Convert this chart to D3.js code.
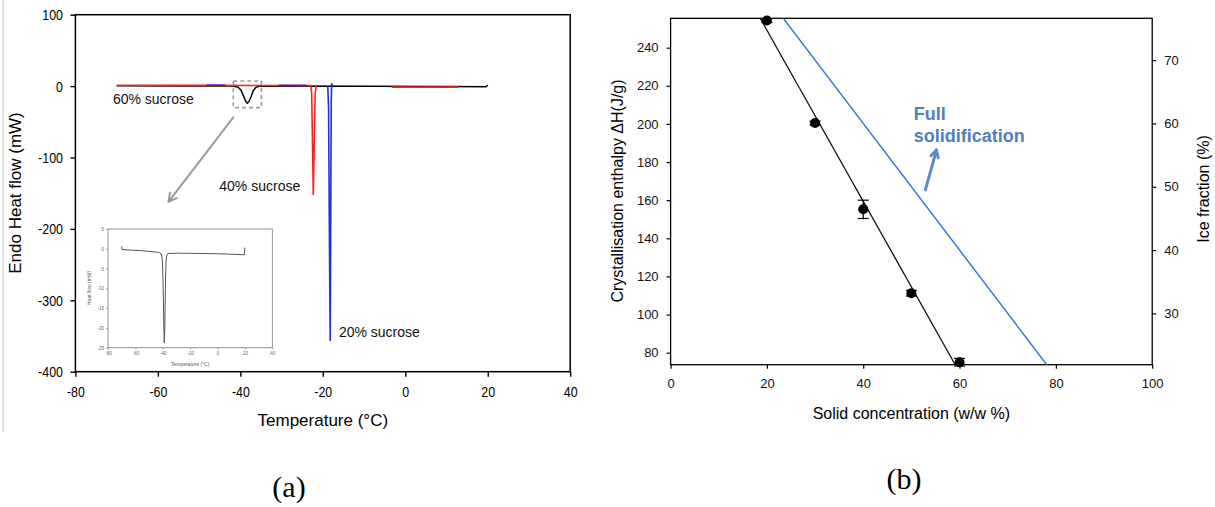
<!DOCTYPE html>
<html>
<head>
<meta charset="utf-8">
<script src="https://cdn.jsdelivr.net/npm/d3@7"></script>
<style>
  body { margin: 0; background: #fff; }
  svg { display: block; font-family: "Liberation Sans", Arial, sans-serif; }
</style>
</head>
<body>
<svg id="figure" width="1215" height="507"></svg>
<script>
// ---------------- panel (a) data : DSC traces ----------------
var tempTicksA = [-80, -60, -40, -20, 0, 20, 40];
var flowTicksA = [-400, -300, -200, -100, 0, 100];

// 60% sucrose (black), full trace
var sucrose60 = [[-70, 0.5], [-55, 0.3], [-42, 0], [-41.2, -0.6], [-40.5, -1.8], [-39.8, -6], [-39.2, -14],
                 [-38.7, -21.5], [-38.3, -24], [-37.9, -21.5], [-37.4, -15], [-36.9, -7], [-36.3, -2.2],
                 [-35.5, -0.3], [-34, 0], [-10, -0.3], [10, -0.6], [19.6, -0.8], [19.8, 0.2], [20, 1.8]];
// 40% sucrose (red), visible pieces
var sucrose40 = [
  [[-70, 1.2], [-48, 1.0], [-35, 0.8], [-22.9, 0.6], [-22.7, -10], [-22.5, -80], [-22.3, -152.5],
   [-22.05, -70], [-21.85, -10], [-21.6, 0.3]],
  [[-3.3, -1.4], [12.8, -1.4]]
];
// 20% sucrose (blue), visible pieces
var sucrose20 = [
  [[-48.2, 1.3], [-43.7, 1.3]],
  [[-30.7, 1.0], [-23.9, 1.0]],
  [[-18.8, 0.2], [-18.6, -30], [-18.5, -120], [-18.35, -250], [-18.2, -357], [-18.05, -150],
   [-17.95, -20], [-17.85, 4], [-17.7, 0]]
];
var curveLabels = ["60% sucrose", "40% sucrose", "20% sucrose"];
var labelPos = [[-70.9, -18.5], [-45.1, -140], [-16.1, -345]];
var zoomBox = [[-41.7, 7.1], [-34.9, -30.1]];
var zoomArrow = [[-41.7, -43.7], [-57.4, -161.9]];

// inset (60% sucrose, enlarged)
var insetXTicks = [-80, -60, -40, -20, 0, 20, 40];
var insetYTicks = [-25, -20, -15, -10, -5, 0, 5];
var insetCurve = [[-70, 0.6], [-69.9, -0.2], [-55, -0.5], [-43, -0.9], [-41, -1.3], [-40.2, -3],
                  [-39.7, -10], [-39.2, -20], [-38.9, -23.8], [-38.5, -20], [-38.1, -10], [-37.7, -4],
                  [-37.2, -1.8], [-36.3, -1.2], [-30, -1.1], [0, -1.25], [19.6, -1.5], [20, 0.3]];

// ---------------- panel (b) data ----------------
var concTicks = [0, 20, 40, 60, 80, 100];
var enthalpyTicks = [80, 100, 120, 140, 160, 180, 200, 220, 240];
var iceTicks = [30, 40, 50, 60, 70];
var concentration = [20, 30, 40, 50, 60];
var enthalpy = [254.2, 200.5, 155.2, 111.2, 75.0];
var enthalpyErr = [1.0, 1.0, 4.8, 1.5, 2.0];
var fitLine = [[18.6, 255.4], [59.1, 73.7]];
var fullSolid = [[20, 80], [80, 20]];   // ice fraction (%) vs solid concentration

var svg = d3.select("#figure");
var plain = function(d) { return String(d); };   // keep ascii hyphen for negatives

// thin grey border at left of panel (a)
svg.append("line").attr("x1", 3).attr("x2", 3).attr("y1", 0).attr("y2", 432)
   .attr("stroke", "#c4c4c4").attr("stroke-width", 1);

function arrow(g, x1, y1, x2, y2, color, width, head) {
  g.append("line").attr("x1", x1).attr("y1", y1).attr("x2", x2).attr("y2", y2)
   .attr("stroke", color).attr("stroke-width", width).attr("stroke-linecap", "round");
  var ang = Math.atan2(y2 - y1, x2 - x1);
  [ang + Math.PI - 0.5, ang + Math.PI + 0.5].forEach(function(a) {
    g.append("line").attr("x1", x2).attr("y1", y2)
     .attr("x2", x2 + head * Math.cos(a)).attr("y2", y2 + head * Math.sin(a))
     .attr("stroke", color).attr("stroke-width", width).attr("stroke-linecap", "round");
  });
}

// ================= panel (a) =================
var xA = d3.scaleLinear().domain([-80, 40]).range([75.4, 570.2]);
var yA = d3.scaleLinear().domain([-400, 100]).range([371.7, 14.7]);
var gA = svg.append("g");

var axA_x = gA.append("g").attr("transform", "translate(0," + yA(-400) + ")")
  .call(d3.axisBottom(xA).tickValues(tempTicksA).tickFormat(plain).tickSize(5).tickSizeOuter(0).tickPadding(9));
var axA_y = gA.append("g").attr("transform", "translate(" + xA(-80) + ",0)")
  .call(d3.axisLeft(yA).tickValues(flowTicksA).tickFormat(plain).tickSize(5).tickSizeOuter(0));
[axA_x, axA_y].forEach(function(ax) {
  ax.select(".domain").remove();
  ax.selectAll(".tick line").attr("stroke", "#000").attr("stroke-width", 1.4);
  ax.selectAll("text").attr("fill", "#000").style("font-size", "15.5px")
    .attr("font-family", "Liberation Sans, Arial, sans-serif");
});
axA_x.selectAll("text").attr("transform", "scale(0.8,1)");
axA_y.selectAll("text").attr("x", -12.5 / 0.8).attr("transform", "scale(0.8,1)");

gA.append("rect").attr("x", xA(-80)).attr("y", yA(100))
  .attr("width", xA(40) - xA(-80)).attr("height", yA(-400) - yA(100))
  .attr("fill", "none").attr("stroke", "#000").attr("stroke-width", 1.5);

var lineA = d3.line().x(d => xA(d[0])).y(d => yA(d[1]));
gA.append("path").datum(sucrose60).attr("d", lineA)
  .attr("fill", "none").attr("stroke", "#000").attr("stroke-width", 1.5);
sucrose40.forEach(function(seg) {
  gA.append("path").datum(seg).attr("d", lineA)
    .attr("fill", "none").attr("stroke", "#ff1f1f").attr("stroke-width", 1.6);
});
sucrose20.forEach(function(seg) {
  gA.append("path").datum(seg).attr("d", lineA)
    .attr("fill", "none").attr("stroke", "#1d30dc").attr("stroke-width", 1.6);
});

curveLabels.forEach(function(t, i) {
  gA.append("text").attr("x", xA(labelPos[i][0])).attr("y", yA(labelPos[i][1]))
    .attr("dy", "0.35em").style("font-size", "14px").attr("fill", "#111").text(t);
});

gA.append("rect").attr("x", xA(zoomBox[0][0])).attr("y", yA(zoomBox[0][1]))
  .attr("width", xA(zoomBox[1][0]) - xA(zoomBox[0][0]))
  .attr("height", yA(zoomBox[1][1]) - yA(zoomBox[0][1]))
  .attr("fill", "none").attr("stroke", "#9a9a9a").attr("stroke-width", 1.6)
  .attr("stroke-dasharray", "4,3");
arrow(gA, xA(zoomArrow[0][0]), yA(zoomArrow[0][1]), xA(zoomArrow[1][0]), yA(zoomArrow[1][1]),
      "#9a9a9a", 2, 9);

gA.append("text").attr("x", (xA(-80) + xA(40)) / 2).attr("y", 420).attr("dy", "0.35em")
  .attr("text-anchor", "middle").style("font-size", "17px").text("Temperature (\u00B0C)");
gA.append("text").attr("transform", "translate(15," + 193 + ") rotate(-90)")
  .attr("dy", "0.35em").attr("text-anchor", "middle").style("font-size", "17px")
  .text("Endo Heat flow (mW)");

// ---- inset ----
var xI = d3.scaleLinear().domain([-80, 40]).range([108, 272.3]);
var yI = d3.scaleLinear().domain([-25, 5]).range([347.7, 229]);
var gI = svg.append("g");
gI.append("rect").attr("x", xI(-80)).attr("y", yI(5))
  .attr("width", xI(40) - xI(-80)).attr("height", yI(-25) - yI(5))
  .attr("fill", "#fff").attr("stroke", "#777").attr("stroke-width", 0.8);
var axI_x = gI.append("g").attr("transform", "translate(0," + yI(-25) + ")")
  .call(d3.axisBottom(xI).tickValues(insetXTicks).tickFormat(plain).tickSize(2).tickSizeOuter(0).tickPadding(2));
var axI_y = gI.append("g").attr("transform", "translate(" + xI(-80) + ",0)")
  .call(d3.axisLeft(yI).tickValues(insetYTicks).tickFormat(plain).tickSize(2).tickSizeOuter(0).tickPadding(2));
[axI_x, axI_y].forEach(function(ax) {
  ax.select(".domain").remove();
  ax.selectAll(".tick line").attr("stroke", "#777").attr("stroke-width", 0.6);
  ax.selectAll("text").attr("fill", "#666").style("font-size", "4.5px")
    .attr("font-family", "Liberation Sans, Arial, sans-serif");
});
gI.append("path").datum(insetCurve)
  .attr("d", d3.line().x(d => xI(d[0])).y(d => yI(d[1])))
  .attr("fill", "none").attr("stroke", "#555").attr("stroke-width", 1);
gI.append("text").attr("x", (xI(-80) + xI(40)) / 2).attr("y", 364.5).attr("dy", "0.35em")
  .attr("text-anchor", "middle").style("font-size", "5px").attr("fill", "#555")
  .text("Temperature (\u00B0C)");
gI.append("text").attr("transform", "translate(89.5,288) rotate(-90)").attr("dy", "0.35em")
  .attr("text-anchor", "middle").style("font-size", "5px").attr("fill", "#555")
  .text("Heat flow (mW)");

// ================= panel (b) =================
var xB = d3.scaleLinear().domain([0, 100]).range([670.6, 1152.2]);
var yBL = d3.scaleLinear().domain([73.7, 255.4]).range([364.7, 18.3]);
var yBR = d3.scaleLinear().domain([21.9, 76.6]).range([364.7, 18.3]);
var gB = svg.append("g");

var axB_x = gB.append("g").attr("transform", "translate(0," + yBL.range()[0] + ")")
  .call(d3.axisBottom(xB).tickValues(concTicks).tickSize(4).tickSizeOuter(0).tickPadding(10));
var axB_l = gB.append("g").attr("transform", "translate(" + xB(0) + ",0)")
  .call(d3.axisLeft(yBL).tickValues(enthalpyTicks).tickSize(4).tickSizeOuter(0).tickPadding(8));
var axB_r = gB.append("g").attr("transform", "translate(" + xB(100) + ",0)")
  .call(d3.axisRight(yBR).tickValues(iceTicks).tickSize(4).tickSizeOuter(0).tickPadding(8));
[axB_x, axB_l, axB_r].forEach(function(ax) {
  ax.select(".domain").remove();
  ax.selectAll(".tick line").attr("stroke", "#000").attr("stroke-width", 1.2);
  ax.selectAll("text").attr("fill", "#111").style("font-size", "13px")
    .attr("font-family", "Liberation Sans, Arial, sans-serif");
});

gB.append("rect").attr("x", xB(0)).attr("y", yBL.range()[1])
  .attr("width", xB(100) - xB(0)).attr("height", yBL.range()[0] - yBL.range()[1])
  .attr("fill", "none").attr("stroke", "#000").attr("stroke-width", 1.3);

gB.append("clipPath").attr("id", "clipB").append("rect")
  .attr("x", xB(0)).attr("y", yBL.range()[1])
  .attr("width", xB(100) - xB(0)).attr("height", yBL.range()[0] - yBL.range()[1]);

gB.append("path").datum(fullSolid).attr("clip-path", "url(#clipB)")
  .attr("d", d3.line().x(d => xB(d[0])).y(d => yBR(d[1])))
  .attr("fill", "none").attr("stroke", "#2a72d4").attr("stroke-width", 1.4);
gB.append("path").datum(fitLine)
  .attr("d", d3.line().x(d => xB(d[0])).y(d => yBL(d[1])))
  .attr("fill", "none").attr("stroke", "#111").attr("stroke-width", 1.3);

concentration.forEach(function(c, i) {
  var cx = xB(c), top = yBL(enthalpy[i] + enthalpyErr[i]), bot = yBL(enthalpy[i] - enthalpyErr[i]);
  gB.append("line").attr("x1", cx).attr("x2", cx).attr("y1", top).attr("y2", bot)
    .attr("stroke", "#000").attr("stroke-width", 1.2);
  [top, bot].forEach(function(yy) {
    gB.append("line").attr("x1", cx - 5.5).attr("x2", cx + 5.5).attr("y1", yy).attr("y2", yy)
      .attr("stroke", "#000").attr("stroke-width", 1.2);
  });
  gB.append("circle").attr("cx", cx).attr("cy", yBL(enthalpy[i])).attr("r", 5).attr("fill", "#000");
});

gB.append("text").attr("x", xB(50.5)).attr("y", 113.5).attr("dy", "0.35em")
  .style("font-size", "18px").style("font-weight", "bold").attr("fill", "#4f81bd").text("Full");
gB.append("text").attr("x", xB(50.5)).attr("y", 136).attr("dy", "0.35em")
  .style("font-size", "18px").style("font-weight", "bold").attr("fill", "#4f81bd").text("solidification");
arrow(gB, xB(52.9), yBL(165.4), xB(55.2), yBL(186.3), "#5a8cc9", 3, 8);

gB.append("text").attr("x", (xB(0) + xB(100)) / 2).attr("y", 413.5).attr("dy", "0.35em")
  .attr("text-anchor", "middle").style("font-size", "16px").text("Solid concentration (w/w %)");
gB.append("text").attr("transform", "translate(617,191) rotate(-90)").attr("dy", "0.35em")
  .attr("text-anchor", "middle").style("font-size", "16px")
  .text("Crystallisation enthalpy \u0394H(J/g)");
gB.append("text").attr("transform", "translate(1203,189) rotate(-90)").attr("dy", "0.35em")
  .attr("text-anchor", "middle").style("font-size", "16px").text("Ice fraction (%)");

// panel letters
svg.append("text").attr("x", 289).attr("y", 497).attr("text-anchor", "middle")
  .attr("font-family", "Liberation Serif, Times New Roman, serif").style("font-size", "30px").text("(a)");
svg.append("text").attr("x", 904).attr("y", 489).attr("text-anchor", "middle")
  .attr("font-family", "Liberation Serif, Times New Roman, serif").style("font-size", "30px").text("(b)");
</script>
</body>
</html>
